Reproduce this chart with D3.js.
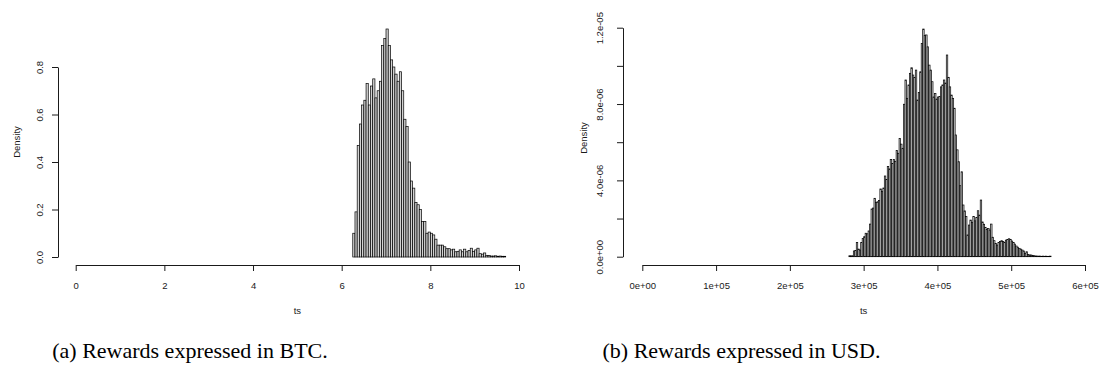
<!DOCTYPE html>
<html>
<head>
<meta charset="utf-8">
<script src="https://cdn.jsdelivr.net/npm/d3@7"></script>
<style>
  html, body { margin: 0; padding: 0; background: #fff; }
  svg { display: block; }
</style>
</head>
<body>
<svg id="chart" width="1103" height="379"></svg>
<script>
// ---- Panel (a): rewards in BTC, histogram with breaks every 0.05 from 6.25 ----
const btcBreakStart = 6.25;
const btcBreakStep = 0.05;
const btcDensity = [
  0.10, 0.19, 0.47, 0.56, 0.64, 0.66, 0.73, 0.64, 0.72, 0.75,
  0.67, 0.70, 0.74, 0.89, 0.92, 0.96, 0.89, 0.83, 0.80, 0.77,
  0.74, 0.78, 0.70, 0.58, 0.55, 0.40, 0.32, 0.29, 0.23, 0.22,
  0.20, 0.15, 0.15, 0.10, 0.105, 0.10, 0.093, 0.075, 0.05, 0.05,
  0.05, 0.043, 0.035, 0.035, 0.03, 0.033, 0.022, 0.024, 0.03, 0.022,
  0.033, 0.022, 0.028, 0.037, 0.024, 0.03, 0.037, 0.014, 0.012, 0.017,
  0.007, 0.006, 0.004, 0.004, 0.005, 0.003, 0.004, 0.003, 0.003
];
const btcTicksX = [0, 2, 4, 6, 8, 10];
const btcTickLabelsX = ["0", "2", "4", "6", "8", "10"];
const btcTicksY = [0, 0.2, 0.4, 0.6, 0.8];
const btcTickLabelsY = ["0.0", "0.2", "0.4", "0.6", "0.8"];

// ---- Panel (b): rewards in USD, histogram with breaks every 2000 from 280000 ----
const usdBreakStart = 280000;
const usdBreakStep = 2000;
const usdDensityUnit = 1e-6;   // values below are in units of 1e-6
const usdDensity = [
  0.05, 0.04, 0.05, 0.30, 0.32, 0.75, 0.40, 0.35, 0.74, 0.95,
  1.05, 1.23, 1.20, 1.35, 1.71, 2.50, 2.55, 3.06, 2.85, 2.88,
  2.95, 3.55, 3.41, 3.60, 4.23, 4.05, 4.72, 4.60, 5.10, 4.89,
  5.10, 5.00, 5.56, 5.42, 6.20, 5.90, 5.68, 7.99, 9.26, 8.30,
  9.00, 9.61, 9.90, 9.52, 9.40, 9.78, 8.21, 8.60, 9.69, 11.18,
  11.93, 11.60, 11.62, 11.00, 10.04, 9.78, 9.17, 8.37, 8.56, 8.26,
  8.37, 8.40, 8.90, 9.00, 9.26, 9.10, 10.57, 9.40, 8.90, 8.47,
  8.30, 7.78, 6.38, 5.60, 4.98, 3.72, 4.45, 2.71, 2.40, 2.10,
  1.14, 1.66, 1.92, 1.80, 2.10, 1.88, 2.05, 2.41, 2.18, 2.97,
  1.82, 1.70, 1.54, 1.43, 1.48, 1.40, 1.71, 1.02, 0.84, 0.70,
  0.61, 0.74, 0.80, 0.84, 0.79, 0.74, 0.87, 0.90, 0.94, 0.91,
  0.82, 0.75, 0.66, 0.56, 0.50, 0.44, 0.40, 0.35, 0.30, 0.18,
  0.26, 0.12, 0.09, 0.09, 0.06, 0.05, 0.04, 0.03, 0.03, 0.03,
  0.02, 0.03, 0.02, 0.03, 0.02, 0.02, 0.03
];
const usdTicksX = [0, 1e5, 2e5, 3e5, 4e5, 5e5, 6e5];
const usdTickLabelsX = ["0e+00", "1e+05", "2e+05", "3e+05", "4e+05", "5e+05", "6e+05"];
const usdTicksY = [0, 2e-6, 4e-6, 6e-6, 8e-6, 1e-5, 1.2e-5];
const usdTickLabelsY = ["0.0e+00", "", "4.0e-06", "", "8.0e-06", "", "1.2e-05"];

const axisTitleX = "ts";
const axisTitleY = "Density";
const captions = ["(a) Rewards expressed in BTC.", "(b) Rewards expressed in USD."];

const svg = d3.select("#chart");
const sansFont = "'Liberation Sans', Arial, Helvetica, sans-serif";
const ink = "#1a1a1a";

function drawPanel(cfg) {
  const g = svg.append("g");
  const x = d3.scaleLinear().domain(cfg.xDomain).range(cfg.xRange);
  const y = d3.scaleLinear().domain(cfg.yDomain).range(cfg.yRange);

  // histogram bars
  const bins = cfg.density.map((d, i) => ({
    x0: cfg.breakStart + i * cfg.breakStep,
    x1: cfg.breakStart + (i + 1) * cfg.breakStep,
    d: d * cfg.unit
  }));
  g.append("g").selectAll("rect").data(bins).join("rect")
    .attr("x", b => x(b.x0))
    .attr("width", b => x(b.x1) - x(b.x0))
    .attr("y", b => y(b.d))
    .attr("height", b => y(0) - y(b.d))
    .attr("fill", "#d3d3d3")
    .attr("stroke", "#000")
    .attr("stroke-width", 0.7);

  // x axis
  const xAxis = g.append("g")
    .attr("transform", `translate(0,${cfg.xAxisY})`)
    .call(d3.axisBottom(x).tickValues(cfg.ticksX).tickSize(6).tickSizeOuter(0)
      .tickFormat((v, i) => cfg.tickLabelsX[i]));
  xAxis.select(".domain").attr("stroke", ink);
  xAxis.selectAll(".tick line").attr("stroke", ink);
  xAxis.selectAll(".tick text")
    .attr("y", cfg.xLabelBaseline - cfg.xAxisY).attr("dy", 0)
    .attr("font-family", sansFont).attr("font-size", 9.5).attr("fill", ink);

  // y axis with labels parallel to the axis
  const yAxis = g.append("g")
    .attr("transform", `translate(${cfg.yAxisX},0)`)
    .call(d3.axisLeft(y).tickValues(cfg.ticksY).tickSize(6).tickSizeOuter(0)
      .tickFormat((v, i) => cfg.tickLabelsY[i]));
  yAxis.select(".domain").attr("stroke", ink);
  yAxis.selectAll(".tick line").attr("stroke", ink);
  yAxis.selectAll(".tick text")
    .attr("transform", "rotate(-90)")
    .attr("x", 0).attr("y", -cfg.yLabelOffset).attr("dy", 0)
    .attr("text-anchor", "middle")
    .attr("font-family", sansFont).attr("font-size", 9.5).attr("fill", ink);

  // axis titles
  g.append("text")
    .attr("x", x((cfg.xDomain[0] + cfg.xDomain[1]) / 2))
    .attr("y", cfg.xTitleBaseline)
    .attr("text-anchor", "middle")
    .attr("font-family", sansFont).attr("font-size", 9.5).attr("fill", ink)
    .text(axisTitleX);
  g.append("text")
    .attr("transform", `translate(${cfg.yTitleBaseline},${cfg.yTitleCenter}) rotate(-90)`)
    .attr("text-anchor", "middle")
    .attr("font-family", sansFont).attr("font-size", 9.5).attr("fill", ink)
    .text(axisTitleY);

  // sub-caption
  svg.append("text")
    .attr("x", cfg.captionX).attr("y", 358)
    .attr("text-anchor", "middle")
    .attr("font-family", "'Liberation Serif', 'Times New Roman', serif")
    .attr("font-size", 22).attr("fill", "#000")
    .text(cfg.caption);
}

drawPanel({
  density: btcDensity, unit: 1,
  breakStart: btcBreakStart, breakStep: btcBreakStep,
  xDomain: [0, 10], xRange: [75.7, 519],
  yDomain: [0, 0.8], yRange: [257, 67],
  ticksX: btcTicksX, tickLabelsX: btcTickLabelsX,
  ticksY: btcTicksY, tickLabelsY: btcTickLabelsY,
  xAxisY: 265, xLabelBaseline: 288.5, xTitleBaseline: 314,
  yAxisX: 58, yLabelOffset: 15, yTitleBaseline: 19.5, yTitleCenter: 142,
  caption: captions[0], captionX: 190
});

drawPanel({
  density: usdDensity, unit: usdDensityUnit,
  breakStart: usdBreakStart, breakStep: usdBreakStep,
  xDomain: [0, 6e5], xRange: [642.3, 1085],
  yDomain: [0, 1.2e-5], yRange: [256.7, 27.7],
  ticksX: usdTicksX, tickLabelsX: usdTickLabelsX,
  ticksY: usdTicksY, tickLabelsY: usdTickLabelsY,
  xAxisY: 265, xLabelBaseline: 288.5, xTitleBaseline: 314,
  yAxisX: 623, yLabelOffset: 20, yTitleBaseline: 586.5, yTitleCenter: 138,
  caption: captions[1], captionX: 741.5
});
</script>
</body>
</html>
